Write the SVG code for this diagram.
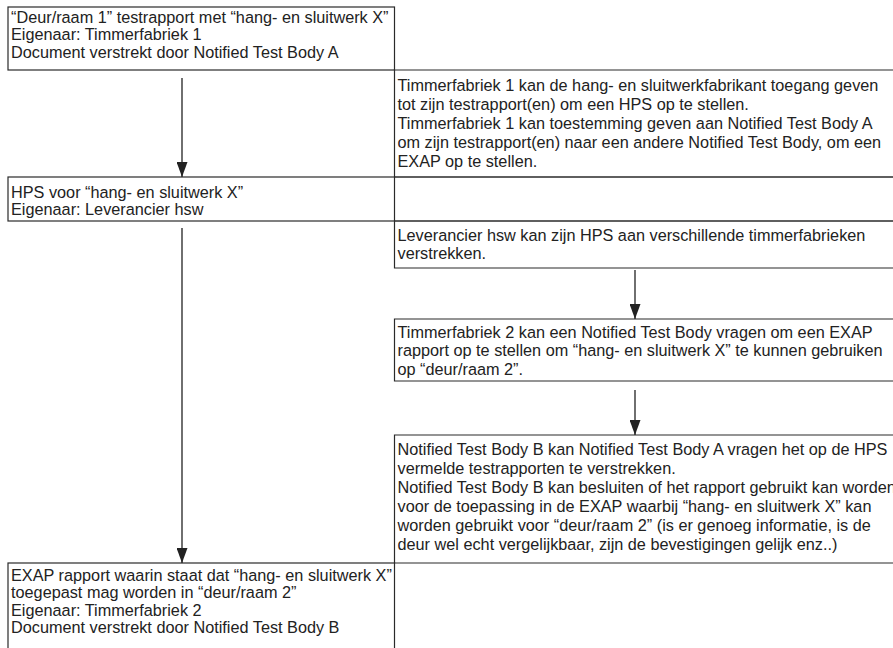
<svg xmlns="http://www.w3.org/2000/svg" width="893" height="648" viewBox="0 0 893 648">
<style>
.box{fill:#fff;stroke:#2a2a2a;stroke-width:1.2}
.ln{stroke:#2a2a2a;stroke-width:1.2;fill:none}
.t{font-family:"Liberation Sans",Arial,sans-serif;font-size:16.25px;fill:#222}
.c{stroke:#222;stroke-width:1.3;fill:none}
</style>
<defs>
<marker id="ah" markerWidth="15" markerHeight="11" refX="15" refY="5.5" orient="auto" markerUnits="userSpaceOnUse" viewBox="0 0 15 11">
<path d="M0,0 L15,5.5 L0,11 Z" fill="#222"/>
</marker>
</defs>
<rect width="893" height="648" fill="#fff"/>
<g id="node-deur1">
<rect class="box" x="8" y="7" width="386.5" height="63"/>
<text class="t" x="11" y="22.5">“Deur/raam 1” testrapport met “hang- en sluitwerk X”</text>
<text class="t" x="11" y="40">Eigenaar: Timmerfabriek 1</text>
<text class="t" x="11" y="57.5">Document verstrekt door Notified Test Body A</text>
</g>
<g id="node-toegang">
<path class="ln" d="M893,70 H394.5 V177 H893"/>
<text class="t" x="397.5" y="91">Timmerfabriek 1 kan de hang- en sluitwerkfabrikant toegang geven</text>
<text class="t" x="397.5" y="110">tot zijn testrapport(en) om een HPS op te stellen.</text>
<text class="t" x="397.5" y="129">Timmerfabriek 1 kan toestemming geven aan Notified Test Body A</text>
<text class="t" x="397.5" y="148">om zijn testrapport(en) naar een andere Notified Test Body, om een</text>
<text class="t" x="397.5" y="167">EXAP op te stellen.</text>
</g>
<g id="node-hps">
<rect class="box" x="8" y="177" width="386.5" height="44"/>
<text class="t" x="11" y="197.5">HPS voor “hang- en sluitwerk X”</text>
<text class="t" x="11" y="215">Eigenaar: Leverancier hsw</text>
</g>
<g id="cell-empty1">
<path class="ln" d="M394.5,177 H893 M394.5,221 H893"/>
</g>
<g id="node-leverancier">
<path class="ln" d="M893,221 H394.5 V268 H893"/>
<text class="t" x="397.5" y="241">Leverancier hsw kan zijn HPS aan verschillende timmerfabrieken</text>
<text class="t" x="397.5" y="259">verstrekken.</text>
</g>
<g id="node-tf2">
<path class="ln" d="M893,319 H394.5 V381 H893"/>
<text class="t" x="397.5" y="337.5">Timmerfabriek 2 kan een Notified Test Body vragen om een EXAP</text>
<text class="t" x="397.5" y="356">rapport op te stellen om “hang- en sluitwerk X” te kunnen gebruiken</text>
<text class="t" x="397.5" y="374.5">op “deur/raam 2”.</text>
</g>
<g id="node-ntb">
<path class="ln" d="M893,435 H394.5 V563 H893"/>
<text class="t" x="397.5" y="455">Notified Test Body B kan Notified Test Body A vragen het op de HPS</text>
<text class="t" x="397.5" y="474">vermelde testrapporten te verstrekken.</text>
<text class="t" x="397.5" y="493">Notified Test Body B kan besluiten of het rapport gebruikt kan worden</text>
<text class="t" x="397.5" y="512">voor de toepassing in de EXAP waarbij “hang- en sluitwerk X” kan</text>
<text class="t" x="397.5" y="531">worden gebruikt voor “deur/raam 2” (is er genoeg informatie, is de</text>
<text class="t" x="397.5" y="550">deur wel echt vergelijkbaar, zijn de bevestigingen gelijk enz..)</text>
</g>
<g id="node-exap">
<rect class="box" x="8" y="563" width="386.5" height="92"/>
<text class="t" x="11" y="580.5">EXAP rapport waarin staat dat “hang- en sluitwerk X”</text>
<text class="t" x="11" y="598">toegepast mag worden in “deur/raam 2”</text>
<text class="t" x="11" y="615.5">Eigenaar: Timmerfabriek 2</text>
<text class="t" x="11" y="633">Document verstrekt door Notified Test Body B</text>
</g>
<g id="connectors">
<line class="c" x1="182" y1="78" x2="182" y2="177" marker-end="url(#ah)"/>
<line class="c" x1="182" y1="228" x2="182" y2="563" marker-end="url(#ah)"/>
<line class="c" x1="635" y1="270" x2="635" y2="319" marker-end="url(#ah)"/>
<line class="c" x1="635" y1="390" x2="635" y2="435" marker-end="url(#ah)"/>
</g>
</svg>
